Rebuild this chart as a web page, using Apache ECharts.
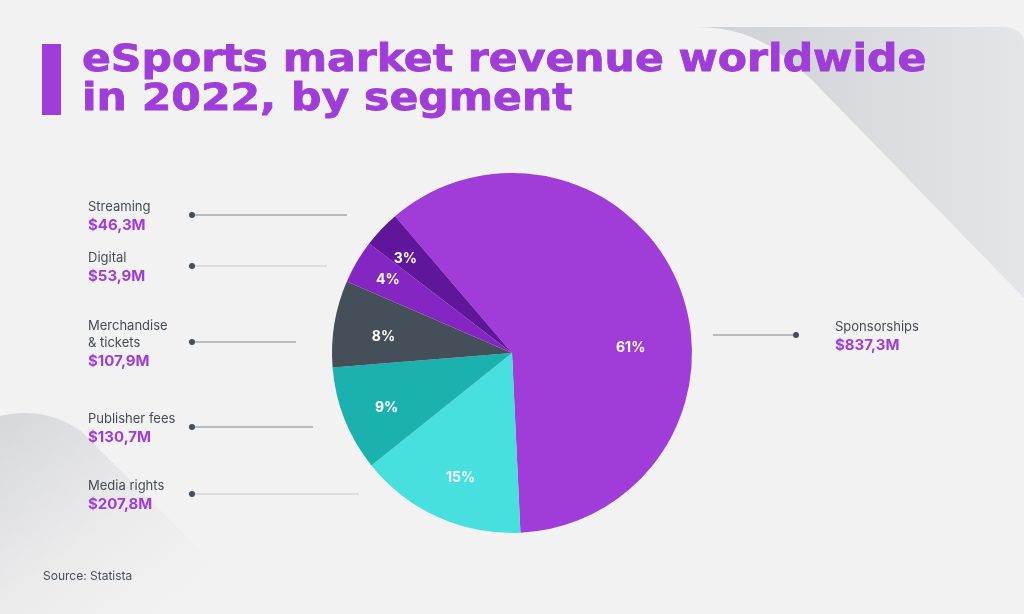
<!DOCTYPE html>
<html>
<head>
<meta charset="utf-8">
<script src="https://cdn.jsdelivr.net/npm/echarts@6/dist/echarts.min.js"></script>
<style>html,body{margin:0;padding:0;background:#f2f2f2;}#c{width:1024px;height:614px;}</style>
</head>
<body>
<div id="c"></div>
<script>
// ---- data ----
const categories = ['Sponsorships', 'Media rights', 'Publisher fees', 'Merchandise & tickets', 'Digital', 'Streaming'];
const revenue = [837.3, 207.8, 130.7, 107.9, 53.9, 46.3]; // million US$
const titleText = 'eSports market revenue worldwide\nin 2022, by segment';
const sourceText = 'Source: Statista';

// ---- styles / layout ----
const sliceColors = ['#a03cd8', '#48dfdf', '#1bb1ae', '#454f59', '#8427c2', '#5f169b'];
const leaderColors = ['#80858c', '#c6c6c6', '#80858c', '#80858c', '#c6c6c6', '#80858c'];
const leaderY = [335, 494, 427, 342, 266, 215];
const leaderInnerX = [713, 359, 313, 296, 327, 347];
const leaderDotX = [796, 192, 192, 192, 192, 192];
const leaderTextX = [835, 88, 88, 88, 88, 88];
const pctRadius = [0.66, 0.75, 0.76, 0.72, 0.8, 0.79];
const pctTurn = [19, -2, -2, -2, 0, -2];
const C = [512, 353], R = 180;

const fmtMoney = v => '$' + v.toFixed(1).replace('.', ',') + 'M';

// sample a cubic bezier into polygon points
function bez(p0, p1, p2, p3, n) {
  const pts = [];
  for (let k = 0; k <= n; k++) {
    const t = k / n, u = 1 - t;
    pts.push([
      u*u*u*p0[0] + 3*u*u*t*p1[0] + 3*u*t*t*p2[0] + t*t*t*p3[0],
      u*u*u*p0[1] + 3*u*u*t*p1[1] + 3*u*t*t*p2[1] + t*t*t*p3[1]
    ]);
  }
  return pts;
}

const chart = echarts.init(document.getElementById('c'), null, {renderer: 'canvas'});

const pieData = categories.map((n, i) => ({
  name: n, value: revenue[i], itemStyle: {color: sliceColors[i]}
}));
const leaderData = categories.map((n, i) => ({
  name: n, value: revenue[i],
  labelLine: {lineStyle: {color: leaderColors[i], width: 1.2}}
}));

const trShape = bez([696, 27], [742, 27], [772, 42], [812, 80], 16)
  .concat([[1024, 298]])
  .concat(bez([1024, 42], [1024, 34], [1016, 27], [1004, 27], 6));
const blShape = bez([0, 416], [25, 410], [55, 412], [82, 432], 16)
  .concat([[264, 614], [0, 614]]);

const graphics = [
  {type: 'polygon', z: 0, silent: true, shape: {points: trShape},
   style: {fill: new echarts.graphic.LinearGradient(0, 0, 1, 0, [{offset: 0, color: '#cdd0d4'}, {offset: 1, color: '#e4e5e8'}])}},
  {type: 'polygon', z: 0, silent: true, shape: {points: blShape},
   style: {fill: new echarts.graphic.LinearGradient(0, 0, 0.6, 1, [{offset: 0, color: '#d6d7da'}, {offset: 0.6, color: '#ebebec'}, {offset: 1, color: '#f2f2f2'}])}},
  {type: 'rect', z: 1, shape: {x: 42, y: 44, width: 19, height: 71}, style: {fill: '#a03cd8'}},
  {type: 'text', z: 1, x: 82, y: 42, scaleX: 1.15,
   style: {text: titleText, fill: '#a03cd8', stroke: '#a03cd8', lineWidth: 0.8, font: '900 37px "DejaVu Sans"', lineHeight: 39}},
  {type: 'text', z: 1, x: 43, y: 570, style: {text: sourceText, fill: '#4a4f57', font: '12px Inter'}}
];
categories.forEach((n, i) => {
  graphics.push({type: 'circle', z: 5, shape: {cx: leaderDotX[i], cy: leaderY[i], r: 3}, style: {fill: '#454f59'}});
});

chart.setOption({
  backgroundColor: '#f2f2f2',
  animation: false,
  graphic: graphics,
  series: [
    {
      type: 'pie', center: C, radius: R, startAngle: 130.5, clockwise: true,
      silent: true, z: 1,
      itemStyle: {color: 'rgba(0,0,0,0)'},
      data: leaderData,
      label: {
        show: true, position: 'outside',
        formatter: p => '{n|' + p.name.replace(' & ', '}\n{n|& ') + '}\n{v|' + fmtMoney(p.value) + '}',
        rich: {
          n: {fontFamily: 'Inter', fontSize: 13, color: '#464c55', lineHeight: 17},
          v: {fontFamily: 'Inter', fontSize: 15, fontWeight: 'bold', color: '#a03cd8', lineHeight: 19}
        }
      },
      labelLine: {show: true},
      labelLayout: p => {
        const i = p.dataIndex, y = leaderY[i];
        return {
          x: leaderTextX[i], y: y + 2, align: 'left', verticalAlign: 'middle',
          labelLinePoints: [[leaderInnerX[i], y], [(leaderInnerX[i] + leaderDotX[i]) / 2, y], [leaderDotX[i], y]]
        };
      },
      emphasis: {disabled: true}
    },
    {
      type: 'pie', center: C, radius: R, startAngle: 130.5, clockwise: true,
      silent: true, z: 3,
      data: pieData,
      label: {
        show: true, position: 'inside',
        formatter: p => Math.round(p.percent) + '%',
        color: '#ffffff', fontFamily: 'Inter', fontWeight: 'bold', fontSize: 14
      },
      labelLine: {show: false},
      labelLayout: p => {
        const i = p.dataIndex, r = p.labelRect;
        const cx = r.x + r.width / 2, cy = r.y + r.height / 2;
        const a = Math.atan2(cy - C[1], cx - C[0]) + pctTurn[i] * Math.PI / 180;
        const rr = R * pctRadius[i];
        return {dx: C[0] + rr * Math.cos(a) - cx, dy: C[1] + rr * Math.sin(a) - cy};
      },
      emphasis: {disabled: true}
    }
  ]
});
</script>
</body>
</html>
